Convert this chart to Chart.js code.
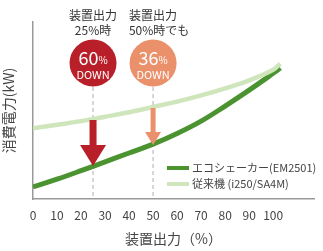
<!DOCTYPE html>
<html>
<head>
<meta charset="utf-8">
<script src="https://cdn.jsdelivr.net/npm/chart.js@4"></script>
<style>
  html, body { margin: 0; padding: 0; background: #fff; }
  #wrap { width: 323px; height: 251px; position: relative; }
</style>
</head>
<body>
<div id="wrap"><canvas id="powerChart"></canvas></div>
<script>
// Load (%) positions
const loadX = [0, 10, 20, 30, 40, 50, 60, 70, 80, 90, 100, 103];
// Power consumption, relative scale 0-100
const ecoShaker = [6.8, 11.2, 16, 21, 26, 31, 37, 44, 52.5, 61.5, 71, 74];
const conventional = [40, 42, 44, 46.5, 49, 52, 55, 58.5, 62.5, 67, 73, 76.5];
const seriesLabels = ['エコシェーカー(EM2501)', '従来機 (i250/SA4M)'];
const seriesColors = ['#4b9330', '#cfe6bd'];

// Callouts
const calloutX = [25, 50];
const calloutPct = ['60', '36'];
const calloutHead = ['装置出力', '装置出力'];
const calloutSub = ['25%時', '50%時でも'];
const calloutColors = ['#b81f29', '#ea916c'];
const arrowTip = [18.6, 30.5];

const FONT = '"Noto Sans CJK JP", "Noto Sans", sans-serif';

function toPoints(xs, ys) {
    return xs.map((x, i) => ({ x: x, y: ys[i] }));
}

const calloutPlugin = {
    id: 'callouts',
    beforeDatasetsDraw(chart) {
        const ctx = chart.ctx;
        const xs = chart.scales.x;
        const area = chart.chartArea;
        ctx.save();
        ctx.strokeStyle = '#c9c9c9';
        ctx.lineWidth = 1.5;
        ctx.setLineDash([4, 3]);
        calloutX.forEach(v => {
            const px = xs.getPixelForValue(v);
            ctx.beginPath();
            ctx.moveTo(px, 87);
            ctx.lineTo(px, area.bottom);
            ctx.stroke();
        });
        ctx.restore();
    },
    afterDatasetsDraw(chart) {
        const ctx = chart.ctx;
        const xs = chart.scales.x;
        const ys = chart.scales.y;
        ctx.save();
        calloutX.forEach((v, i) => {
            const px = xs.getPixelForValue(v);
            const color = calloutColors[i];

            // header text
            ctx.fillStyle = '#333';
            ctx.textAlign = 'center';
            ctx.textBaseline = 'middle';
            ctx.font = '12px ' + FONT;
            ctx.fillText(calloutHead[i], px, 15);
            ctx.fillText(calloutSub[i], px + (i === 1 ? 6 : 0), 30);

            // circle
            ctx.fillStyle = color;
            ctx.beginPath();
            ctx.arc(px, 63, 23.5, 0, Math.PI * 2);
            ctx.fill();

            ctx.fillStyle = '#fff';
            ctx.font = '18px ' + FONT;
            const numW = ctx.measureText(calloutPct[i]).width;
            ctx.font = '10px ' + FONT;
            const pctW = ctx.measureText('%').width;
            const startX = px - (numW + pctW) / 2;
            ctx.textAlign = 'left';
            ctx.textBaseline = 'alphabetic';
            ctx.font = '18px ' + FONT;
            ctx.fillText(calloutPct[i], startX, 65);
            ctx.font = '10px ' + FONT;
            ctx.fillText('%', startX + numW, 64);
            ctx.textAlign = 'center';
            ctx.font = '11px ' + FONT;
            ctx.fillText('DOWN', px, 79);

            // arrow
            const tip = ys.getPixelForValue(arrowTip[i]);
            const big = i === 0;
            const top = big ? 120 : 108;
            const shaftW = big ? 7 : 5;
            const headW = big ? 26 : 16;
            const headH = big ? 21 : 13;
            ctx.fillStyle = color;
            ctx.fillRect(px - shaftW / 2, top, shaftW, tip - headH - top + 1);
            ctx.beginPath();
            ctx.moveTo(px - headW / 2, tip - headH);
            ctx.lineTo(px + headW / 2, tip - headH);
            ctx.lineTo(px, tip);
            ctx.closePath();
            ctx.fill();
        });

        // legend
        const rows = [168, 184];
        rows.forEach((y, i) => {
            ctx.strokeStyle = seriesColors[i];
            ctx.lineWidth = 4;
            ctx.beginPath();
            ctx.moveTo(167, y);
            ctx.lineTo(189, y);
            ctx.stroke();
            ctx.fillStyle = '#444';
            ctx.font = '11px ' + FONT;
            ctx.textAlign = 'left';
            ctx.textBaseline = 'middle';
            ctx.fillText(seriesLabels[i], 192, y);
        });
        ctx.restore();
    }
};

const chart = new Chart(document.getElementById('powerChart'), {
    type: 'line',
    data: {
        datasets: [
            {
                label: seriesLabels[1],
                data: toPoints(loadX, conventional),
                borderColor: seriesColors[1],
                borderWidth: 4.5,
                pointRadius: 0,
                tension: 0.4
            },
            {
                label: seriesLabels[0],
                data: toPoints(loadX, ecoShaker),
                borderColor: seriesColors[0],
                borderWidth: 5,
                pointRadius: 0,
                tension: 0.4
            }
        ]
    },
    options: {
        responsive: true,
        maintainAspectRatio: false,
        animation: false,
        layout: { padding: { top: 22, right: 3 } },
        plugins: {
            legend: { display: false },
            tooltip: { enabled: false }
        },
        scales: {
            x: {
                type: 'linear',
                min: 0,
                max: 117,
                grid: { display: false, drawTicks: false },
                border: { color: '#999', width: 1.5 },
                ticks: {
                    stepSize: 10,
                    autoSkip: false,
                    maxRotation: 0,
                    padding: 9,
                    color: '#444',
                    font: { family: FONT, size: 12 },
                    callback: v => (v <= 100 ? v : '')
                },
                title: {
                    display: true,
                    text: '装置出力（%）',
                    color: '#444',
                    font: { family: FONT, size: 14 },
                    padding: { top: 2 }
                },
                afterFit: scale => { scale.height = 52; }
            },
            y: {
                min: 0,
                max: 100,
                grid: { display: false, drawTicks: false },
                border: { color: '#999', width: 1.5 },
                ticks: { display: false },
                title: {
                    display: true,
                    text: '消費電力(kW)',
                    color: '#444',
                    font: { family: FONT, size: 14 },
                    padding: 0
                },
                afterFit: scale => { scale.width = 33; }
            }
        }
    },
    plugins: [calloutPlugin]
});
</script>
</body>
</html>
